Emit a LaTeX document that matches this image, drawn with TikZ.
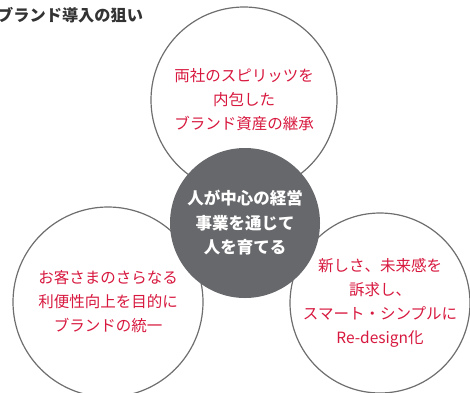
\documentclass[tikz,border=0pt]{standalone}
\usepackage{fontspec}
\setmainfont{Noto Sans CJK JP}

\definecolor{ringgray}{HTML}{6E6E6E}
\definecolor{coregray}{HTML}{67686B}
\definecolor{aimred}{HTML}{D8193F}
\definecolor{titlegray}{HTML}{333333}

\tikzset{
  ring/.style={circle, draw=ringgray, line width=1.2pt, fill=white, inner sep=0pt,
    minimum size=#1, text=aimred, align=center, font=\fontsize{15.5}{24}\selectfont},
  core/.style={circle, fill=coregray, inner sep=0pt, minimum size=#1, text=white,
    align=center, font=\bfseries\fontsize{16.5}{24.5}\selectfont}
}

\begin{document}
\begin{tikzpicture}[x=1pt,y=-1pt]
\useasboundingbox (0,0) rectangle (470,392);

% Title
\node[anchor=west, inner sep=0pt, text=titlegray, font=\bfseries\fontsize{16.2}{16.2}\selectfont] (title) at (-3,15) {ブランド導入の狙い};

% Outer circles
\node[ring=186] (heritage) at (244,100) {両社のスピリッツを\\内包した\\ブランド資産の継承};
\node[ring=190] (unify) at (108,302) {お客さまのさらなる\\利便性向上を目的に\\ブランドの統一};
\node[ring=180] (redesign) at (380,303) {新しさ、未来感を\\訴求し、\\スマート・シンプルに\\Re-design化};

% Core circle on top
\node[core=150] (core) at (245,223) {人が中心の経営\\事業を通じて\\人を育てる};
\end{tikzpicture}
\end{document}
